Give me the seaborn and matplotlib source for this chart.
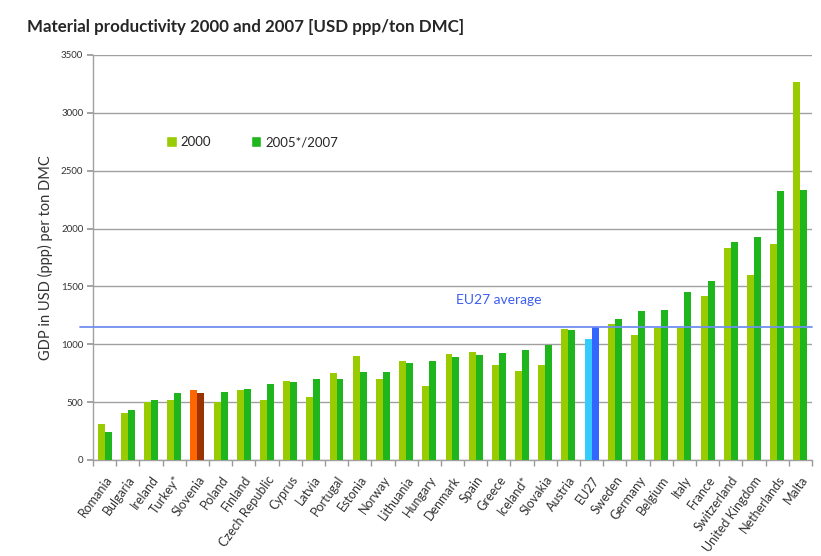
import numpy as np
import pandas as pd
import seaborn as sns
import matplotlib.pyplot as plt
from matplotlib.patches import Patch
import matplotlib.transforms as mtransforms

countries = ["Romania", "Bulgaria", "Ireland", "Turkey*", "Slovenia", "Poland", "Finland",
             "Czech Republic", "Cyprus", "Latvia", "Portugal", "Estonia", "Norway",
             "Lithuania", "Hungary", "Denmark", "Spain", "Greece", "Iceland*", "Slovakia",
             "Austria", "EU27", "Sweden", "Germany", "Belgium", "Italy", "France",
             "Switzerland", "United Kingdom", "Netherlands", "Malta"]
values_2000 = [310, 410, 497, 515, 606, 497, 606, 520, 686, 546, 749, 898, 698,
               855, 643, 915, 935, 820, 772, 820, 1135, 1049, 1178, 1077, 1143,
               1143, 1420, 1834, 1600, 1869, 3266]
values_2007 = [243, 434, 520, 577, 577, 586, 615, 657, 672, 698, 698, 758, 758,
               838, 855, 886, 906, 921, 949, 995, 1126, 1150, 1222, 1291, 1297,
               1454, 1551, 1886, 1926, 2326, 2331]
series_names = ["2000", "2005*/2007"]
eu27_average = 1150
y_ticks = [0, 500, 1000, 1500, 2000, 2500, 3000, 3500]

df = pd.DataFrame({
    "country": countries * 2,
    "year": [series_names[0]] * len(countries) + [series_names[1]] * len(countries),
    "value": values_2000 + values_2007,
})

sns.set_theme(style="white")
plt.rcParams["font.family"] = ["Lato", "DejaVu Sans"]

light_green = "#99cc00"
green = "#1fb51c"

fig = plt.figure(figsize=(8.21, 5.56), dpi=100)
ax = fig.add_axes([0.1133, 0.1727, 0.8757, 0.7284])

sns.barplot(data=df, x="country", y="value", hue="year", order=countries,
            hue_order=series_names, palette=[light_green, green], width=0.6,
            saturation=1, legend=False, ax=ax, zorder=3)

# highlight Slovenia and the EU27 aggregate
highlight = {"Slovenia": ("#ff6600", "#993300"), "EU27": ("#33ccff", "#3366ff")}
for name, cols in highlight.items():
    i = countries.index(name)
    for cont, col in zip(ax.containers, cols):
        cont.patches[i].set_facecolor(col)
for cont in ax.containers:
    for p in cont.patches:
        p.set_edgecolor("none")

ax.set_xlim(-0.5, len(countries) - 0.5)
ax.set_ylim(0, 3500)
ax.set_yticks(y_ticks)
ax.set_yticklabels([str(v) for v in y_ticks], fontsize=7, color="#333333")
ax.grid(axis="y", color="#a0a0a0", linewidth=1.0, zorder=0)
ax.grid(axis="x", visible=False)
ax.set_axisbelow(True)

ax.set_xticks(range(len(countries)))
ax.set_xticklabels(countries, rotation=54, ha="right", rotation_mode="anchor",
                   fontsize=9, color="#333333")
ax.set_xticks(np.arange(-0.5, len(countries)), minor=True)
ax.tick_params(axis="x", which="major", length=0, pad=10)
ax.tick_params(axis="x", which="minor", length=4, color="#999999", direction="out",
               bottom=True)
ax.tick_params(axis="y", length=4, color="#999999", direction="out", left=True, pad=3)

for side in ["top", "right"]:
    ax.spines[side].set_visible(False)
for side in ["left", "bottom"]:
    ax.spines[side].set_color("#a0a0a0")
    ax.spines[side].set_linewidth(1.0)

ax.set_xlabel("")
ax.set_ylabel("GDP in USD (ppp) per ton DMC", fontsize=10.5, color="#333333", labelpad=6)

# EU27 average reference line
trans = mtransforms.blended_transform_factory(ax.transAxes, ax.transData)
ax.plot([-0.018, 1.0], [eu27_average, eu27_average], color="#6f8ff0", linewidth=1.3,
        transform=trans, clip_on=False, zorder=4)
ax.text(17.0, eu27_average + 180, "EU27 average", color="#3d5ef0", fontsize=10,
        ha="center", va="bottom")

handles = [Patch(facecolor=light_green, label=series_names[0]),
           Patch(facecolor=green, label=series_names[1])]
ax.legend(handles=handles, loc="center left", bbox_to_anchor=(0.085, 0.785), ncol=2,
          frameon=False, fontsize=9.5, handlelength=0.8, handleheight=0.8,
          handletextpad=0.3, columnspacing=3.0)

fig.text(0.033, 0.952, "Material productivity 2000 and 2007 [USD ppp/ton DMC]",
         fontsize=12.2, fontweight="bold", color="#262626", ha="left", va="center")

fig.savefig("out.png", dpi=100, facecolor="white")
